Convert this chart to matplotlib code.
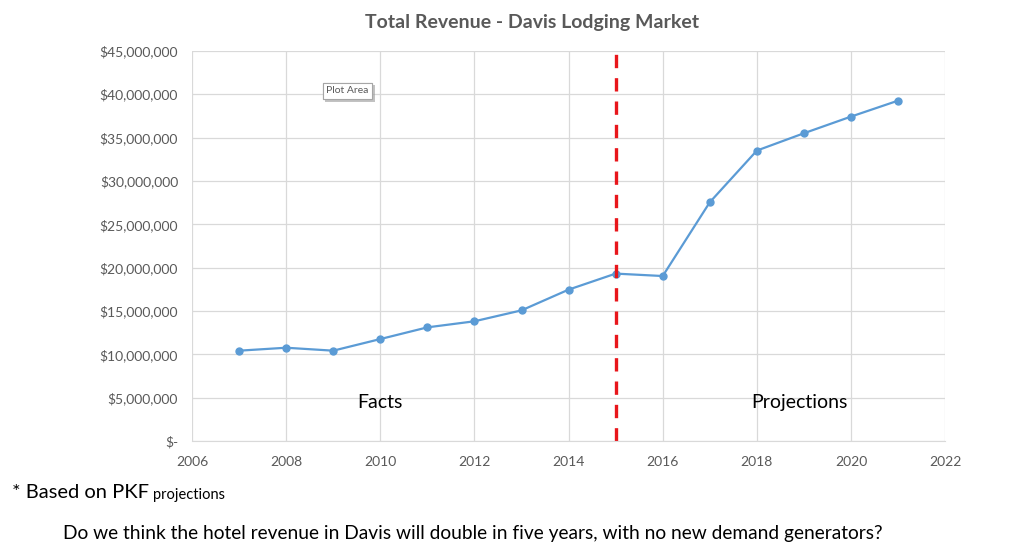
import numpy as np
import matplotlib.pyplot as plt
import matplotlib.patheffects as pe
from matplotlib.ticker import FuncFormatter

plt.rcParams['font.family'] = ['Lato', 'DejaVu Sans']

# Revenue
years = [2007, 2008, 2009, 2010, 2011, 2012, 2013, 2014,
         2015, 2016, 2017, 2018, 2019, 2020, 2021]
revenue = [10.42, 10.76, 10.42, 11.76, 13.11, 13.81, 15.07, 17.46,
           19.31, 19.03, 27.54, 33.50, 35.50, 37.42, 39.26]  # $ millions
split_year = 2015

revenue = np.array(revenue) * 1e6

fig = plt.figure(figsize=(10.24, 5.53), dpi=100)
ax = fig.add_axes([0.1875, 0.2025, 0.7355, 0.7055])

ax.plot(years, revenue, color='#5b9bd5', linewidth=1.6, marker='o', markersize=5)
ax.axvline(split_year, color='#e8161b', linestyle=(0, (4, 3)), linewidth=2.4)

ax.set_xlim(2006, 2022)
ax.set_ylim(0, 45e6)
ax.set_xticks(range(2006, 2023, 2))
ax.set_yticks(np.arange(0, 45e6 + 1, 5e6))


def money(v, pos):
    if v == 0:
        return '$-'
    return '${:,.0f}'.format(v)


ax.yaxis.set_major_formatter(FuncFormatter(money))
ax.grid(True, color='#d9d9d9', linewidth=0.9)
ax.set_axisbelow(True)
for s in ['top', 'right', 'left']:
    ax.spines[s].set_visible(False)
ax.spines['bottom'].set_color('#d9d9d9')
ax.tick_params(length=0, colors='#595959', labelsize=10)
ax.tick_params(axis='y', pad=10)
ax.tick_params(axis='x', pad=11)

ax.text(2010, 4.5e6, 'Facts', fontsize=14, ha='center', va='center')
ax.text(2018.9, 4.5e6, 'Projections', fontsize=14, ha='center', va='center')

# the "Plot Area" tooltip left over in the screenshot
ax.text(2009.3, 40.4e6, 'Plot Area', fontsize=7.5, color='#595959', ha='center', va='center',
        bbox=dict(boxstyle='square,pad=0.35', fc='white', ec='#a6a6a6', lw=0.8,
                  path_effects=[pe.withSimplePatchShadow(offset=(2, -2), shadow_rgbFace='#9a9a9a', alpha=0.6),
                                pe.Normal()]))

fig.text(0.52, 0.96, 'Total Revenue - Davis Lodging Market', fontsize=14,
         fontweight='bold', color='#595959', ha='center', va='center')

note = fig.text(0.012, 0.11, '* Based on PKF', fontsize=14.5, va='center')
fig.canvas.draw()
bb = note.get_window_extent()
fig.text((bb.x1 + 4) / fig.bbox.width, 0.105, 'projections', fontsize=10.5, va='center')
fig.text(0.062, 0.035, 'Do we think the hotel revenue in Davis will double in five years, '
         'with no new demand generators?', fontsize=13.8, va='center')

fig.savefig('out.png', dpi=100)
